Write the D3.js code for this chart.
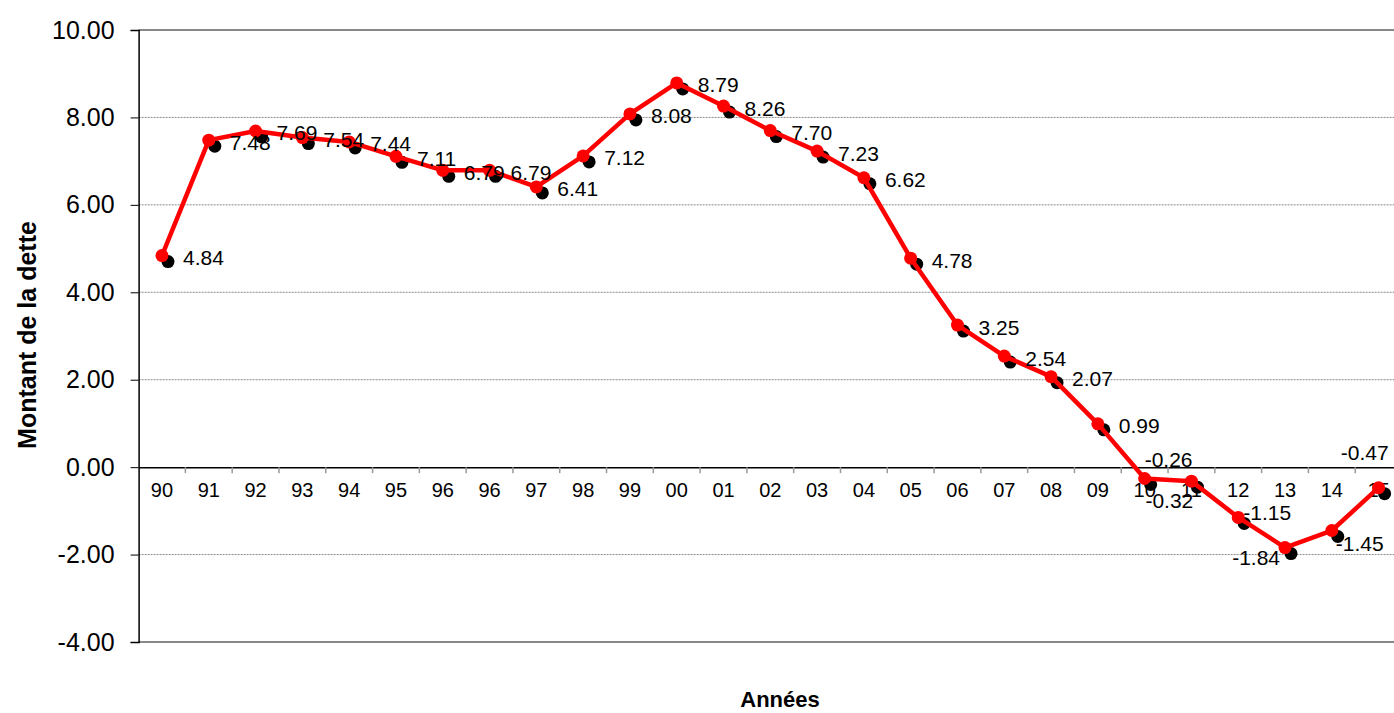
<!DOCTYPE html>
<html><head><meta charset="utf-8">
<script src="https://cdn.jsdelivr.net/npm/d3@7/dist/d3.min.js"></script>
<style>body{margin:0;background:#fff;overflow:hidden}text{font-family:Arial,"Liberation Sans",sans-serif}</style>
</head><body>
<svg id="c" width="1394" height="713"></svg>
<script>
const categories = ["90","91","92","93","94","95","96","96","97","98","99","00","01","02","03","04","05","06","07","08","09","10","11","12","13","14","15"];
const values = [4.84,7.48,7.69,7.54,7.44,7.11,6.79,6.79,6.41,7.12,8.08,8.79,8.26,7.70,7.23,6.62,4.78,3.25,2.54,2.07,0.99,-0.26,-0.32,-1.15,-1.84,-1.45,-0.47];
const yTicks = [-4,-2,0,2,4,6,8,10];
const yTitle = "Montant de la dette";
const xTitle = "Années";

const svg = d3.select("#c");
const L = 138.6, R = 1402, T = 30, B = 642;
const x = d3.scaleBand().domain(d3.range(categories.length)).range([L, R]);
const y = d3.scaleLinear().domain([-4, 10]).range([B, T]);
const cx = i => x(i) + x.bandwidth() / 2;
const fmt = d => d.toFixed(2);

// gridlines
svg.append("g").selectAll("line").data(yTicks.filter(t => t !== 0 && t !== -4 && t !== 10)).join("line")
  .attr("x1", L).attr("x2", R).attr("y1", d => y(d)).attr("y2", d => y(d))
  .attr("stroke", "#8a8a8a").attr("stroke-width", 1).attr("stroke-dasharray", "2,1");

// frame (top, bottom gray)
svg.append("line").attr("x1", L).attr("x2", R).attr("y1", y(10)).attr("y2", y(10)).attr("stroke", "#888").attr("stroke-width", 2);
svg.append("line").attr("x1", L).attr("x2", R).attr("y1", y(-4)).attr("y2", y(-4)).attr("stroke", "#888").attr("stroke-width", 2);

// y axis
const yAxis = d3.axisLeft(y).tickValues(yTicks).tickSize(8).tickPadding(16).tickFormat(fmt);
const gy = svg.append("g").attr("transform", `translate(${L},0)`).call(yAxis);
gy.select(".domain").attr("stroke", "#000").attr("stroke-width", 1.5);
gy.selectAll(".tick line").attr("stroke", "#000");
gy.selectAll(".tick text").attr("font-size", 25).attr("fill", "#000").attr("font-family", "Arial, 'Liberation Sans', sans-serif");

// x axis at zero
const xAxis = d3.axisBottom(x).tickSize(0).tickPadding(16).tickFormat(i => categories[i]);
const gx = svg.append("g").attr("transform", `translate(0,${y(0)})`).call(xAxis);
gx.select(".domain").attr("stroke", "#000").attr("stroke-width", 1.5);
gx.selectAll(".tick text").attr("font-size", 20).attr("fill", "#000").attr("font-family", "Arial, 'Liberation Sans', sans-serif");
// minor ticks between categories
svg.append("g").selectAll("line").data(d3.range(1, categories.length)).join("line")
  .attr("x1", i => x(i)).attr("x2", i => x(i)).attr("y1", y(0)).attr("y2", y(0) + 6)
  .attr("stroke", "#999").attr("stroke-width", 1.5);

// shadow markers
svg.append("g").selectAll("circle").data(values).join("circle")
  .attr("cx", (d, i) => cx(i) + 6).attr("cy", d => y(d) + 6).attr("r", 6.5).attr("fill", "#000");

// line
const line = d3.line().x((d, i) => cx(i)).y(d => y(d));
svg.append("path").datum(values).attr("d", line).attr("fill", "none").attr("stroke", "#ff0000").attr("stroke-width", 4.5).attr("stroke-linejoin", "round");
svg.append("g").selectAll("circle").data(values).join("circle")
  .attr("cx", (d, i) => cx(i)).attr("cy", d => y(d)).attr("r", 6.5).attr("fill", "#ff0000");

// data labels
const special = {
  21: {dx: 0, dy: -19, a: "start"},
  22: {dx: -46, dy: 19, a: "start"},
  23: {dx: 5, dy: -5, a: "start"},
  24: {dx: -5, dy: 10, a: "end"},
  25: {dx: 4, dy: 13, a: "start"},
  26: {dx: 10, dy: -35, a: "end"}
};
svg.append("g").selectAll("text").data(values).join("text")
  .attr("x", (d, i) => cx(i) + (special[i] ? special[i].dx : 21))
  .attr("y", (d, i) => y(d) + (special[i] ? special[i].dy : 2))
  .attr("text-anchor", (d, i) => special[i] ? special[i].a : "start")
  .attr("dominant-baseline", "central")
  .attr("font-size", 21).attr("fill", "#000")
  .text(fmt);

// titles
svg.append("text").attr("transform", `translate(27,335) rotate(-90)`)
  .attr("text-anchor", "middle").attr("dominant-baseline", "central")
  .attr("font-size", 25).attr("font-weight", "bold").text(yTitle);
svg.append("text").attr("x", 780).attr("y", 707).attr("text-anchor", "middle")
  .attr("font-size", 22).attr("font-weight", "bold").text(xTitle);
</script>
</body></html>
